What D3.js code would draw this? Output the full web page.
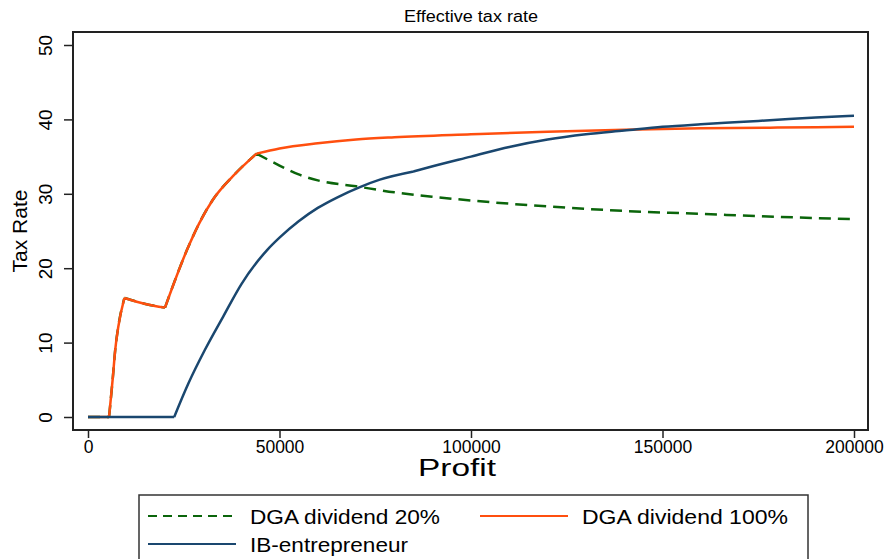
<!DOCTYPE html>
<meta charset="utf-8">
<head>
    <script src="https://d3js.org/d3.v7.min.js"></script>
    <style>
        body { margin: 0; background: #fff; }
        text { font-family: "Liberation Sans", Arial, sans-serif; fill: #000; }
    </style>
</head>
<body>
<div id="my_dataviz"></div>
</body>

<script>

    // values: [profit, tax rate]
    var dga20 = [[0,0],[5500,0],[6500,5.4],[7100,9.0],[7900,12.1],[9500,16.0],[15000,15.2],[20100,14.7],
        [25800,22.4],[29000,26.0],[32600,29.2],[37900,32.4],[44000,35.4],
        [50000,33.8],[55000,32.6],[60000,31.8],[70000,31.0],[80000,30.2],[90000,29.6],
        [100000,29.1],[120000,28.3],[140000,27.7],[160000,27.3],[180000,26.9],[200000,26.6]];

    var dga100 = [[0,0],[5500,0],[6500,5.4],[7100,9.0],[7900,12.1],[9500,16.0],[15000,15.2],[20100,14.7],
        [25800,22.4],[29000,26.0],[32600,29.2],[37900,32.4],[44000,35.4],
        [50000,36.1],[60000,36.8],[70000,37.3],[80000,37.6],[100000,38.0],[120000,38.35],
        [140000,38.6],[160000,38.8],[180000,38.9],[200000,39.0]];

    var ibEntrepreneur = [[0,0],[22500,0],[26200,4.5],[30500,9.0],[35300,13.5],[40100,17.9],
        [46700,22.4],[50000,24.1],[55000,26.3],[60000,28.1],[65000,29.5],[71000,30.9],[76200,31.9],
        [85000,33.0],[90000,33.7],[100000,35.0],[110000,36.3],[120000,37.3],[130000,38.0],
        [140000,38.5],[150000,39.0],[160000,39.35],[170000,39.65],[180000,39.95],[190000,40.25],[200000,40.5]];

    // profits where the curves break
    var dgaKinks = [5500, 9500, 20100, 44000];
    var ibKinks = [22500, 85000];

    var xTicks = [0, 50000, 100000, 150000, 200000];
    var yTicks = [0, 10, 20, 30, 40, 50];

    var seriesNames = ["DGA dividend 20%", "DGA dividend 100%", "IB-entrepreneur"];
    var seriesColors = ["#0b650b", "#ff4f0f", "#1a476f"];

    var width = 885, height = 559;
    var plot = {left: 73, right: 868, top: 32, bottom: 430};

    var svg = d3.select("#my_dataviz")
        .append("svg")
        .attr("width", width)
        .attr("height", height);

    var x = d3.scaleLinear()
        .domain([0, 200000])
        .range([88, 854]);

    var y = d3.scaleLinear()
        .domain([0, 50])
        .range([417, 45]);

    // frame
    svg.append("rect")
        .attr("x", plot.left)
        .attr("y", plot.top)
        .attr("width", plot.right - plot.left)
        .attr("height", plot.bottom - plot.top)
        .attr("fill", "none")
        .attr("stroke", "#222")
        .attr("stroke-width", 2);

    // X axis
    var xAxis = svg.append("g")
        .attr("transform", "translate(0," + plot.bottom + ")")
        .call(d3.axisBottom(x).tickValues(xTicks).tickSize(8).tickPadding(3).tickSizeOuter(0)
            .tickFormat(d3.format("d")));
    xAxis.select(".domain").remove();
    xAxis.selectAll("line").attr("stroke", "#222").attr("stroke-width", 1.5);
    xAxis.selectAll("text").style("font-size", "17.5px").attr("fill", "#000");

    // Y axis, labels turned like the original
    var yAxis = svg.append("g")
        .attr("transform", "translate(" + plot.left + ",0)")
        .call(d3.axisLeft(y).tickValues(yTicks).tickSize(9).tickSizeOuter(0));
    yAxis.select(".domain").remove();
    yAxis.selectAll("line").attr("stroke", "#222").attr("stroke-width", 1.5);
    yAxis.selectAll("text")
        .attr("x", null).attr("dy", null)
        .attr("transform", "translate(-21,0) rotate(-90)")
        .style("text-anchor", "middle")
        .style("font-size", "19px")
        .attr("fill", "#000");

    // titles
    svg.append("text")
        .attr("x", 471)
        .attr("y", 22)
        .style("text-anchor", "middle")
        .style("font-size", "16px")
        .attr("textLength", 134)
        .attr("lengthAdjust", "spacingAndGlyphs")
        .text("Effective tax rate");

    svg.append("text")
        .attr("x", 457)
        .attr("y", 476)
        .style("text-anchor", "middle")
        .style("font-size", "23px")
        .attr("textLength", 78)
        .attr("lengthAdjust", "spacingAndGlyphs")
        .text("Profit");

    svg.append("text")
        .attr("transform", "translate(27,231) rotate(-90)")
        .style("text-anchor", "middle")
        .style("font-size", "21px")
        .text("Tax Rate");

    // lines: smooth between kinks, sharp at them
    var line = d3.line()
        .x(function(d) { return x(d[0]); })
        .y(function(d) { return y(d[1]); })
        .curve(d3.curveMonotoneX);

    function segmented(data, kinks) {
        var parts = [], current = [];
        data.forEach(function(d) {
            current.push(d);
            if (kinks.indexOf(d[0]) >= 0) {
                parts.push(current);
                current = [d];
            }
        });
        if (current.length > 1) parts.push(current);
        return parts.map(function(p) { return line(p); }).join("");
    }

    var series = [
        {data: dga20, kinks: dgaKinks, dash: "12,7"},
        {data: dga100, kinks: dgaKinks, dash: null},
        {data: ibEntrepreneur, kinks: ibKinks, dash: null}
    ];

    svg.append("g")
        .selectAll("path")
        .data(series)
        .enter()
        .append("path")
        .attr("d", function(d) { return segmented(d.data, d.kinks); })
        .attr("fill", "none")
        .attr("stroke", function(d, i) { return seriesColors[i]; })
        .attr("stroke-width", 2.5)
        .attr("stroke-linejoin", "round")
        .attr("stroke-dasharray", function(d) { return d.dash; });

    // legend
    var legend = svg.append("g");
    legend.append("rect")
        .attr("x", 139)
        .attr("y", 495)
        .attr("width", 669)
        .attr("height", 90)
        .attr("fill", "#fff")
        .attr("stroke", "#333")
        .attr("stroke-width", 1.5);

    var legendPos = [{x: 148, y: 516}, {x: 480, y: 516}, {x: 148, y: 544}];
    var legendTextWidth = [190, 206, 158];

    legend.selectAll("line")
        .data(seriesNames)
        .enter()
        .append("line")
        .attr("x1", function(d, i) { return legendPos[i].x; })
        .attr("x2", function(d, i) { return legendPos[i].x + 88; })
        .attr("y1", function(d, i) { return legendPos[i].y; })
        .attr("y2", function(d, i) { return legendPos[i].y; })
        .attr("stroke", function(d, i) { return seriesColors[i]; })
        .attr("stroke-width", 2)
        .attr("stroke-dasharray", function(d, i) { return i == 0 ? "9,6" : null; });

    legend.selectAll("text")
        .data(seriesNames)
        .enter()
        .append("text")
        .attr("x", function(d, i) { return legendPos[i].x + 102; })
        .attr("y", function(d, i) { return legendPos[i].y + 8; })
        .style("font-size", "21px")
        .attr("textLength", function(d, i) { return legendTextWidth[i]; })
        .attr("lengthAdjust", "spacingAndGlyphs")
        .text(function(d) { return d; });

</script>
